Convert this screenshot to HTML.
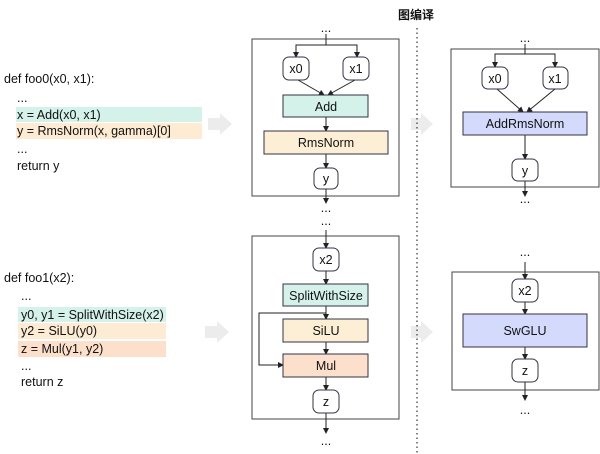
<!DOCTYPE html>
<html><head><meta charset="utf-8"><style>
html,body{margin:0;padding:0;background:#fff}
svg{display:block}
text{font-family:"Liberation Sans","Noto Sans CJK SC",sans-serif;font-size:12.5px;fill:#111}
</style></head><body>
<svg width="600" height="454" viewBox="0 0 600 454" xmlns="http://www.w3.org/2000/svg">
<defs>
<marker id="a" markerWidth="6" markerHeight="6" refX="5" refY="3" orient="auto" markerUnits="userSpaceOnUse"><path d="M0,0 L6,3 L0,6 z" fill="#222"/></marker>
</defs>
<rect x="16" y="107" width="186" height="15" fill="#d4f1ea"/>
<rect x="16" y="123" width="186" height="16" fill="#fdebd3"/>
<text x="4" y="83">def foo0(x0, x1):</text>
<text x="17" y="102">...</text>
<text x="17" y="119">x = Add(x0, x1)</text>
<text x="17" y="135">y = RmsNorm(x, gamma)[0]</text>
<text x="17" y="153">...</text>
<text x="17" y="170">return y</text>
<rect x="18" y="307" width="148" height="15" fill="#d4f1ea"/>
<rect x="18" y="323" width="148" height="16" fill="#fdebd3"/>
<rect x="18" y="341" width="148" height="16" fill="#fde0cc"/>
<text x="4" y="282">def foo1(x2):</text>
<text x="21" y="300">...</text>
<text x="21" y="319">y0, y1 = SplitWithSize(x2)</text>
<text x="21" y="335">y2 = SiLU(y0)</text>
<text x="21" y="353">z = Mul(y1, y2)</text>
<text x="21" y="370">...</text>
<text x="21" y="386">return z</text>
<g fill="#ececec">
<path d="M208,118 h12 v-5 l12,11 l-12,11 v-5 h-12 z"/>
<path d="M411,118 h10 v-5 l12,11 l-12,11 v-5 h-10 z"/>
<path d="M205,326 h12 v-5 l12,11 l-12,11 v-5 h-12 z"/>
<path d="M411,326 h10 v-5 l12,11 l-12,11 v-5 h-10 z"/>
</g>
<line x1="417" y1="28" x2="417" y2="454" stroke="#333" stroke-width="1.2" stroke-dasharray="1.5,3"/>
<text x="416" y="19" text-anchor="middle" style="font-weight:bold;font-size:12px">图编译</text>
<g stroke="#444" stroke-width="1" fill="none">
<rect x="252" y="39" width="147" height="157"/>
<rect x="252" y="236" width="147" height="183"/>
<rect x="451" y="49" width="148" height="138"/>
<rect x="452" y="272" width="147" height="118"/>
</g>
<g stroke="#222" stroke-width="1" fill="none" marker-end="url(#a)">
<path d="M326,34 V45 H296 V57"/>
<path d="M326,45 H357 V57"/>
<path d="M298,80 L324,95"/>
<path d="M355,80 L328,95"/>
<path d="M326,117 V131"/>
<path d="M326,154 V168"/>
<path d="M326,189 V203"/>
<path d="M525,44 V54 H495 V67"/>
<path d="M525,54 H555 V67"/>
<path d="M497,89 L523,112"/>
<path d="M555,89 L527,112"/>
<path d="M525,135 V159"/>
<path d="M525,181 V196"/>
<path d="M326,230 V248"/>
<path d="M326,271 V284"/>
<path d="M326,306 V319"/>
<path d="M326,313 H259 V365 H283"/>
<path d="M326,342 V354"/>
<path d="M326,377 V390"/>
<path d="M326,413 V433"/>
<path d="M525,262 V279"/>
<path d="M525,302 V314"/>
<path d="M525,347 V359"/>
<path d="M525,382 V400"/>
</g>
<g stroke="#334" stroke-width="1">
<rect x="283" y="57" width="26" height="23" rx="6" fill="#fff"/>
<rect x="343" y="57" width="26" height="23" rx="6" fill="#fff"/>
<rect x="283" y="95" width="85" height="22" fill="#d4f1ea"/>
<rect x="264" y="131" width="124" height="23" fill="#fdeed6"/>
<rect x="314" y="168" width="24" height="21" rx="6" fill="#fff"/>
<rect x="482" y="67" width="26" height="22" rx="6" fill="#fff"/>
<rect x="543" y="67" width="25" height="22" rx="6" fill="#fff"/>
<rect x="463" y="112" width="124" height="23" fill="#d4dafb"/>
<rect x="512" y="159" width="26" height="22" rx="6" fill="#fff"/>
<rect x="313" y="248" width="26" height="23" rx="6" fill="#fff"/>
<rect x="283" y="284" width="85" height="22" fill="#d4f1ea"/>
<rect x="283" y="319" width="85" height="23" fill="#fdeed6"/>
<rect x="283" y="354" width="85" height="23" fill="#fde0cc"/>
<rect x="313" y="390" width="26" height="23" rx="6" fill="#fff"/>
<rect x="512" y="279" width="26" height="23" rx="6" fill="#fff"/>
<rect x="463" y="314" width="124" height="33" fill="#d4dafb"/>
<rect x="512" y="359" width="26" height="23" rx="6" fill="#fff"/>
</g>
<g text-anchor="middle">
<text x="296" y="73">x0</text>
<text x="356" y="73">x1</text>
<text x="326" y="111">Add</text>
<text x="326" y="147">RmsNorm</text>
<text x="326" y="183">y</text>
<text x="495" y="83">x0</text>
<text x="555" y="83">x1</text>
<text x="525" y="128">AddRmsNorm</text>
<text x="525" y="175">y</text>
<text x="326" y="264">x2</text>
<text x="326" y="300">SplitWithSize</text>
<text x="326" y="335">SiLU</text>
<text x="326" y="370">Mul</text>
<text x="326" y="406">z</text>
<text x="525" y="295">x2</text>
<text x="525" y="335">SwGLU</text>
<text x="525" y="375">z</text>
<text x="326" y="32">...</text>
<text x="326" y="212">...</text>
<text x="326" y="225">...</text>
<text x="326" y="445">...</text>
<text x="525" y="42">...</text>
<text x="525" y="203">...</text>
<text x="525" y="256">...</text>
<text x="525" y="414">...</text>
</g>
</svg>
</body></html>
